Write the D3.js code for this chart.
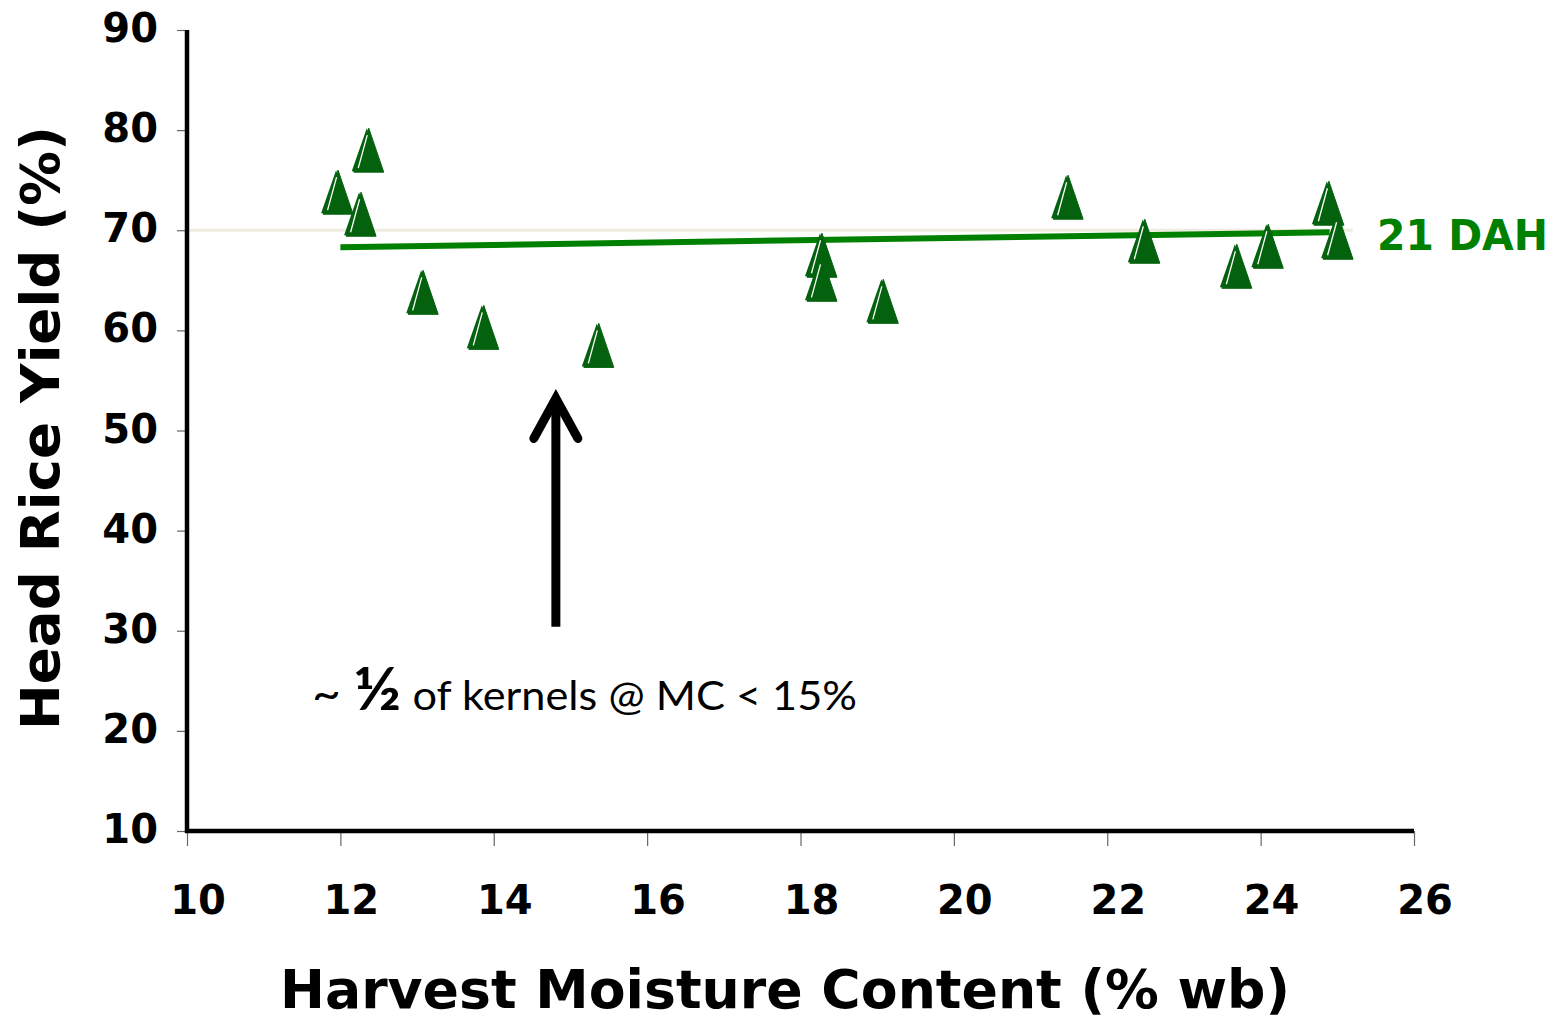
<!DOCTYPE html>
<html>
<head>
<meta charset="utf-8">
<script src="https://cdn.jsdelivr.net/npm/d3@7"></script>
<style>
  body { margin: 0; background: #fff; }
  svg { display: block; }
</style>
</head>
<body>
<div id="chart"></div>
<script>
// harvest moisture content (% wb) and head rice yield (%) for 21 DAH
const moisture = [11.97, 12.37, 12.27, 13.08, 13.87, 15.37, 18.28, 18.28, 19.08, 21.49, 22.49, 23.69, 24.10, 24.89, 25.01];
const hry      = [73.8, 78.0, 71.6, 63.8, 60.3, 58.5, 67.5, 65.1, 62.9, 73.3, 68.9, 66.4, 68.4, 72.7, 69.3];

// fitted trend line end points
const trendX = [12.0, 24.9];
const trendY = [68.3, 69.8];

const xTicks = [10, 12, 14, 16, 18, 20, 22, 24, 26];
const yTicks = [10, 20, 30, 40, 50, 60, 70, 80, 90];

const refLine = {y: 70, x0: 10, x1: 25.2};
const arrowX = 14.81, arrowFrom = 30.4, arrowTo = 53.8;

const svg = d3.select("#chart").append("svg")
  .attr("width", 1560)
  .attr("height", 1020);

const x = d3.scaleLinear().domain([10, 26]).range([187, 1414]);
const y = d3.scaleLinear().domain([10, 90]).range([831, 30]);

const boldFont = "'DejaVu Sans', Verdana, sans-serif";

// light reference line at 70
svg.append("line")
  .attr("x1", x(refLine.x0)).attr("x2", x(refLine.x1))
  .attr("y1", y(refLine.y)).attr("y2", y(refLine.y))
  .attr("stroke", "#eeece1")
  .attr("stroke-width", 3);

// axes
const xAxis = d3.axisBottom(x).tickValues(xTicks).tickSize(15).tickFormat("");
const yAxis = d3.axisLeft(y).tickValues(yTicks).tickSize(10).tickFormat("");

const gx = svg.append("g").attr("transform", "translate(0," + y(10) + ")").call(xAxis);
const gy = svg.append("g").attr("transform", "translate(" + x(10) + ",0)").call(yAxis);
[gx, gy].forEach(g => {
  g.select(".domain").remove();
  g.selectAll(".tick line").attr("stroke", "#666").attr("stroke-width", 1.2);
});

svg.append("line")
  .attr("x1", x(10)).attr("x2", x(10))
  .attr("y1", y(90)).attr("y2", y(10) + 2)
  .attr("stroke", "#000").attr("stroke-width", 4.5);
svg.append("line")
  .attr("x1", x(10) - 2).attr("x2", x(26))
  .attr("y1", y(10)).attr("y2", y(10))
  .attr("stroke", "#000").attr("stroke-width", 4.5);

// tick labels
svg.append("g").selectAll("text")
  .data(xTicks)
  .join("text")
    .attr("x", d => x(d) + 11)
    .attr("y", 914)
    .attr("text-anchor", "middle")
    .attr("font-family", boldFont)
    .attr("font-weight", "bold")
    .attr("font-size", 40)
    .text(d => d);

svg.append("g").selectAll("text")
  .data(yTicks)
  .join("text")
    .attr("x", 158)
    .attr("y", d => y(d) + 12)
    .attr("text-anchor", "end")
    .attr("font-family", boldFont)
    .attr("font-weight", "bold")
    .attr("font-size", 40)
    .text(d => d);

// axis titles
svg.append("text")
  .attr("x", 785)
  .attr("y", 1008)
  .attr("text-anchor", "middle")
  .attr("font-family", boldFont)
  .attr("font-weight", "bold")
  .attr("font-size", 53)
  .attr("textLength", 1010)
  .attr("lengthAdjust", "spacingAndGlyphs")
  .text("Harvest Moisture Content (% wb)");

svg.append("text")
  .attr("transform", "translate(59,428) rotate(-90)")
  .attr("text-anchor", "middle")
  .attr("font-family", boldFont)
  .attr("font-weight", "bold")
  .attr("font-size", 54)
  .attr("textLength", 604)
  .attr("lengthAdjust", "spacingAndGlyphs")
  .text("Head Rice Yield (%)");

// trend line
const line = d3.line().x(d => x(d[0])).y(d => y(d[1]));
svg.append("path")
  .datum(d3.zip(trendX, trendY))
  .attr("d", line)
  .attr("fill", "none")
  .attr("stroke", "#008000")
  .attr("stroke-width", 6);

// triangle markers
const pts = d3.zip(moisture, hry);
const tri = svg.append("g").selectAll("g")
  .data(pts)
  .join("g")
    .attr("transform", d => "translate(" + x(d[0]) + "," + y(d[1]) + ")");
tri.append("path")
  .attr("d", "M-2,-22 L-17,21 L13,21 Z")
  .attr("fill", "#04620f");
tri.append("path")
  .attr("d", "M0,-22 L-15,22 L15,22 Z")
  .attr("fill", "#04620f")
  .attr("stroke", "#04620f")
  .attr("stroke-width", 1)
  .attr("stroke-linejoin", "round");
tri.append("line")
  .attr("x1", -1.5).attr("y1", -15)
  .attr("x2", -10.5).attr("y2", 18)
  .attr("stroke", "#fff")
  .attr("stroke-width", 1.3);

// series label
svg.append("text")
  .attr("x", 1377)
  .attr("y", 250)
  .attr("font-family", boldFont)
  .attr("font-weight", "bold")
  .attr("font-size", 42)
  .attr("fill", "#008000")
  .attr("textLength", 171)
  .attr("lengthAdjust", "spacingAndGlyphs")
  .text("21 DAH");

// arrow annotation
const ax = x(arrowX);
svg.append("line")
  .attr("x1", ax).attr("x2", ax)
  .attr("y1", y(arrowFrom)).attr("y2", y(arrowTo) + 6)
  .attr("stroke", "#000").attr("stroke-width", 9);
svg.append("path")
  .attr("d", "M" + (ax - 22) + "," + (y(arrowTo) + 46) + " L" + ax + "," + (y(arrowTo) + 6) + " L" + (ax + 22) + "," + (y(arrowTo) + 46))
  .attr("fill", "none")
  .attr("stroke", "#000")
  .attr("stroke-width", 9)
  .attr("stroke-linecap", "round")
  .attr("stroke-linejoin", "miter");

const note = svg.append("text")
  .attr("x", 312)
  .attr("y", 710)
  .attr("font-family", "Lato, 'Open Sans', sans-serif")
  .attr("font-size", 40)
  .attr("fill", "#000")
  .attr("textLength", 545)
  .attr("lengthAdjust", "spacingAndGlyphs");
note.append("tspan").attr("font-size", 46).text("~ ");
note.append("tspan").attr("font-size", 60).attr("font-weight", "bold").text("½");
note.append("tspan").text(" of kernels @ MC < 15%");
</script>
</body>
</html>
